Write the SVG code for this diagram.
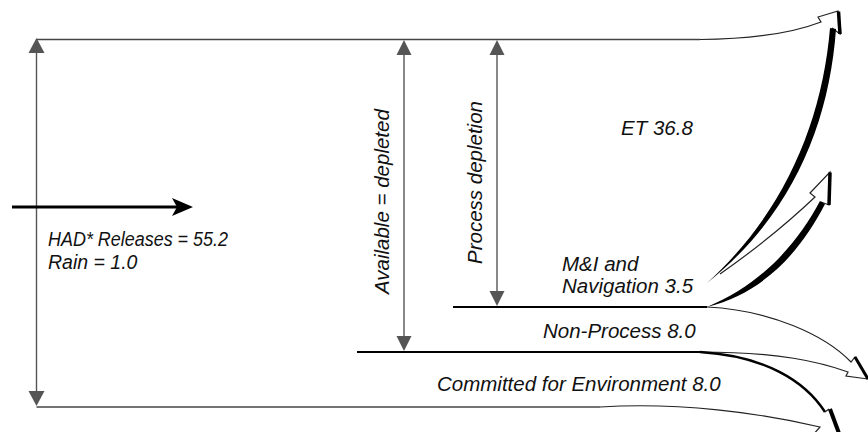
<svg xmlns="http://www.w3.org/2000/svg" width="868" height="432" viewBox="0 0 868 432">
<style>
.lbl{font-family:"Liberation Sans",Arial,sans-serif;font-style:italic;font-size:20.5px;fill:#111}
.lbl2{font-family:"Liberation Sans",Arial,sans-serif;font-style:italic;font-size:19.5px;fill:#111}
.thin{fill:none;stroke:#222;stroke-width:1.2;stroke-linejoin:miter}
.gline{fill:none;stroke:#444;stroke-width:1.5}
.bline{fill:none;stroke:#000;stroke-width:2.2}
.dim{fill:none;stroke:#555;stroke-width:1.4}
.dhead{fill:#555}
.thick{fill:none;stroke:#000;stroke-width:3.5}
.solid{fill:#000}
</style>
<rect width="868" height="432" fill="#fff"/>

<g id="connectors">
  <path class="gline" d="M36.5,39.5 L700,39.5"/>
  <path class="gline" d="M36.5,407 L600,407"/>
  <path class="bline" d="M453,307 L707,307"/>
  <path class="bline" d="M357,352 L700,352"/>
  <path class="dim" d="M36.5,52 L36.5,394"/>
  <polygon class="dhead" points="36.5,38 28.5,53 44.5,53"/>
  <polygon class="dhead" points="36.5,406 28.5,391 44.5,391"/>
  <path class="dim" d="M404,52 L404,340"/>
  <polygon class="dhead" points="404,40 396.5,55 411.5,55"/>
  <polygon class="dhead" points="404,351 396.5,336 411.5,336"/>
  <path class="dim" d="M497,52 L497,295"/>
  <polygon class="dhead" points="497,40 489.5,55 504.5,55"/>
  <polygon class="dhead" points="497,306 489.5,291 504.5,291"/>
</g>

<g id="inflow">
  <path d="M12,207 L178,207" fill="none" stroke="#000" stroke-width="3"/>
  <polygon class="solid" points="193,207 172,198 177,207 172,216"/>
  <text class="lbl2" x="48" y="246" textLength="180" lengthAdjust="spacingAndGlyphs">HAD* Releases = 55.2</text>
  <text class="lbl2" x="48" y="269">Rain = 1.0</text>
</g>

<g id="available">
  <text class="lbl" transform="translate(389,294) rotate(-90)">Available = depleted</text>
</g>

<g id="process">
  <text class="lbl" transform="translate(482,264) rotate(-90)">Process depletion</text>
</g>

<g id="et">
  <path class="thin" d="M700,39.5 C760,39 795,32 821,22 L818,17 L838,11 L840,34 L832,28"/>
  <path class="thick" d="M838.5,11.5 L840,34"/>
  <path class="solid" d="M707,283 C783,214 822,124 830,28 L836,29 C829,126 791,216 707,283 Z"/>
  <text class="lbl" x="621" y="135">ET 36.8</text>
</g>

<g id="mi">
  <path class="thin" d="M720,274 C760,246 795,216 815,197 L810,193 L830,172 L829,205 L821,202"/>
  <path class="thick" d="M830,172.5 L829,205"/>
  <path class="solid" d="M707,307 C762,284 797,244 820,201 L825,204 C801,250 766,292 707,307 Z"/>
  <text class="lbl" x="562" y="271">M&amp;I and</text>
  <text class="lbl" x="562" y="293">Navigation 3.5</text>
</g>

<g id="nonprocess">
  <path class="thin" d="M707,307 C770,310 825,335 851,362 L855,357 L868,379 L846,376 L848,372 C820,362 780,352 700,352"/>
  <path d="M855,357 L868,379" fill="none" stroke="#000" stroke-width="3"/>
  <text class="lbl" x="543" y="338">Non-Process 8.0</text>
</g>

<g id="environment">
  <path d="M700,352 C765,356 805,381 825,412" fill="none" stroke="#000" stroke-width="2.5"/>
  <path class="thin" d="M825,412 L829,409"/>
  <path d="M830,409 L840,436" fill="none" stroke="#000" stroke-width="4"/>
  <path class="thin" d="M600,407 C680,402 760,413 820,427 L812,436"/>
  <text class="lbl" x="437" y="391">Committed for Environment 8.0</text>
</g>
</svg>
